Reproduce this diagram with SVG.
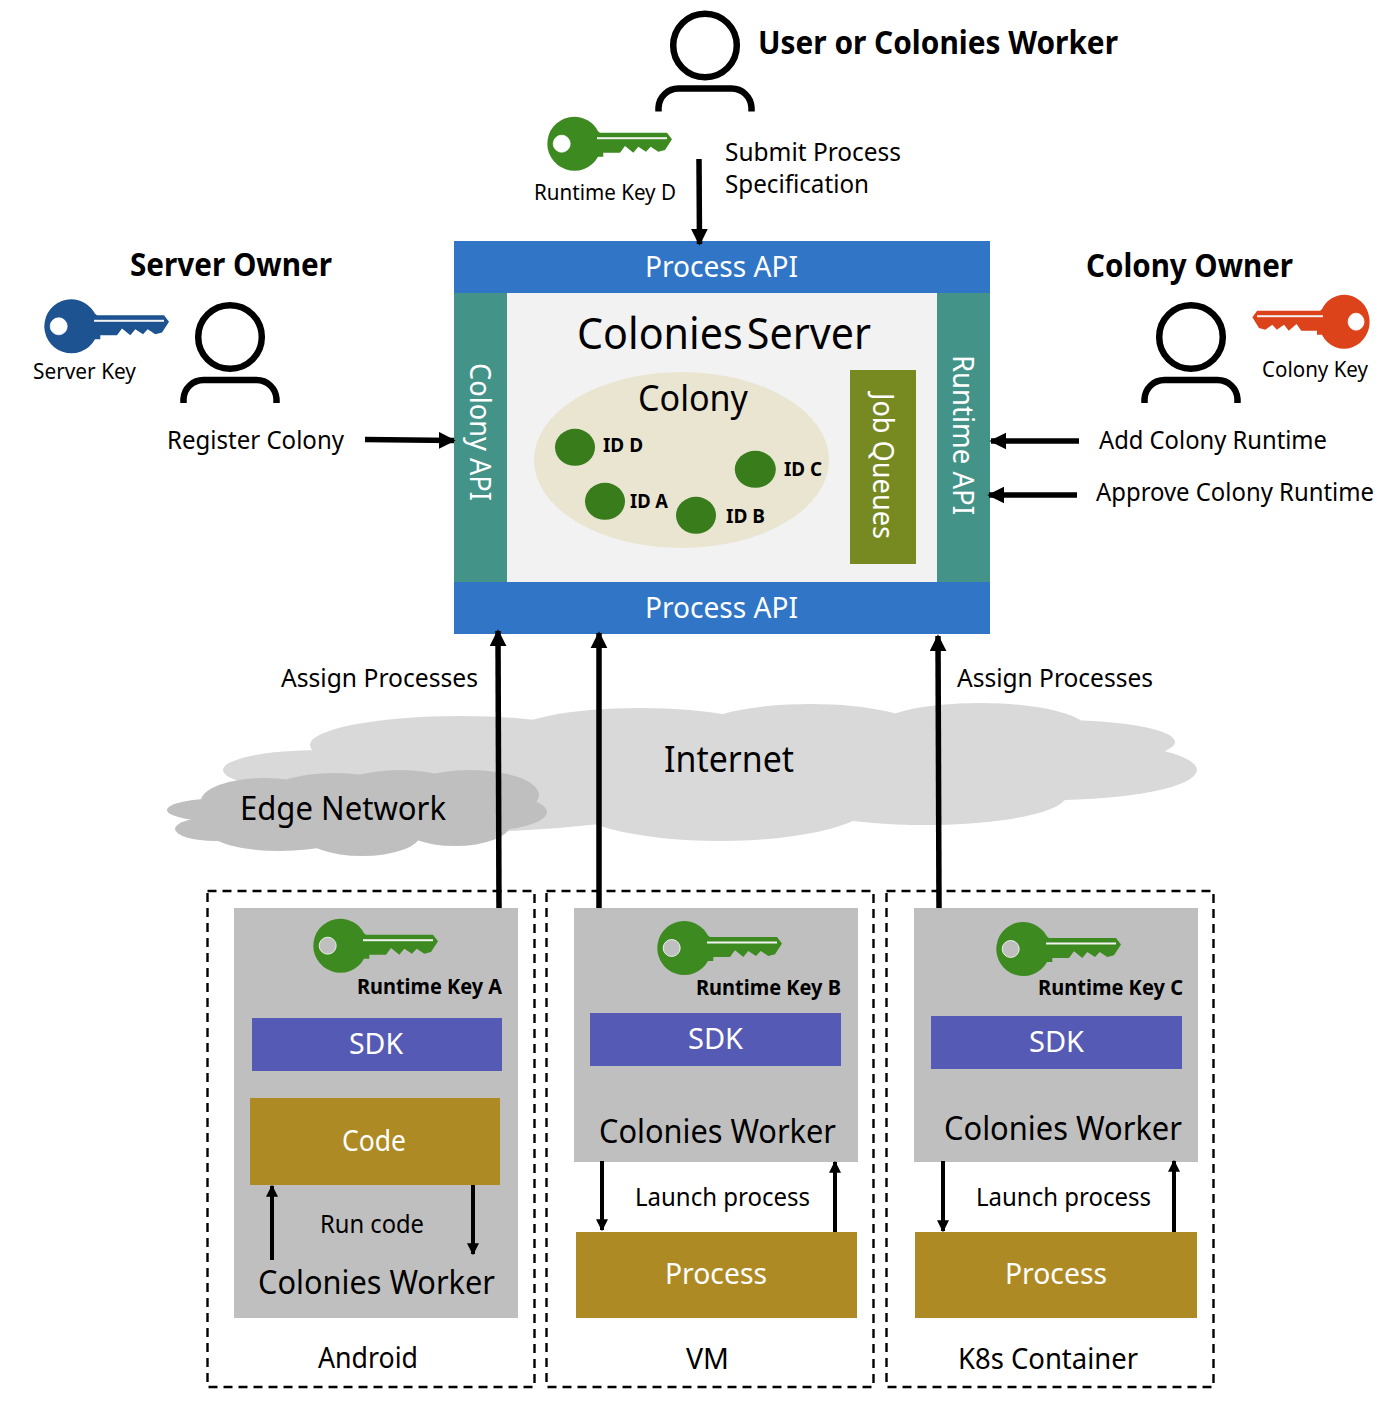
<svg xmlns="http://www.w3.org/2000/svg" width="1396" height="1418" viewBox="0 0 1396 1418">
<style>
text{font-family:"Noto Sans","Open Sans","DejaVu Sans",sans-serif;fill:#000}
.b{font-weight:700}
.w{fill:#fff}
.d{fill:none;stroke:#000;stroke-width:2.4;stroke-dasharray:9 6}
.p{fill:none;stroke:#000;stroke-width:6.5}
.a{fill:none;stroke:#000;stroke-width:5.5}
.a2{fill:none;stroke:#000;stroke-width:4}
.i{fill:#d9d9d9}
.e{fill:#bfbfbf}
.g{fill:#bfbfbf}
.o{fill:#ae8a24}
.s{fill:#555ab4}
.api{fill:#3075c6}
.t{fill:#439388}
.id{fill:#387c1c}
</style>
<defs>
<g id="key">
<path fill-rule="evenodd" d="M0-27A27 27 0 0 1 24-12.500L26-11H93L98-4.500L91 6.300L84.300 8L76.700 3L72 8L64.300 3L59.300 9L51 2.300L46 9H29.300V13H24A27 27 0 1 1 0-27ZM-12.300-8.500A8.500 8.500 0 1 0-12.300 8.500A8.500 8.500 0 1 0-12.300-8.500Z"/>
<circle cx="-12.300" cy="0" r="8.500" fill="none" stroke="#fff" stroke-width="0.800"/>
<rect x="23" y="-6.500" width="70" height="2" fill="#f2f2f2"/>
</g>
<g id="person">
<circle cx="0" cy="0" r="31.800" class="p"/>
<path class="p" d="M-46.500 66V62A20 20 0 0 1-26.500 43H26.500A20 20 0 0 1 46.500 62V66"/>
</g>
<marker id="h" viewBox="0 0 10 10" refX="9" refY="5" markerWidth="3.100" markerHeight="3.100" orient="auto"><path d="M0 0L10 5L0 10Z"/></marker>
<marker id="h2" viewBox="0 0 10 10" refX="9" refY="5" markerWidth="3" markerHeight="3" orient="auto"><path d="M0 0L10 5L0 10Z"/></marker>
</defs>

<g id="internet-cloud">
<ellipse class="i" cx="320" cy="770" rx="97" ry="20"/>
<ellipse class="i" cx="460" cy="745" rx="150" ry="29"/>
<ellipse class="i" cx="640" cy="735" rx="130" ry="27"/>
<ellipse class="i" cx="810" cy="730" rx="110" ry="26"/>
<ellipse class="i" cx="980" cy="730" rx="108" ry="27"/>
<ellipse class="i" cx="1060" cy="742" rx="115" ry="22"/>
<ellipse class="i" cx="1050" cy="770" rx="147" ry="30"/>
<ellipse class="i" cx="720" cy="800" rx="155" ry="41"/>
<ellipse class="i" cx="925" cy="795" rx="142" ry="30"/>
<path class="i" d="M440 833Q520 833 600 824V760H440Z"/>
<rect class="i" x="400" y="740" width="600" height="70"/>
<text x="664" y="772" font-size="36" textLength="130" lengthAdjust="spacingAndGlyphs">Internet</text>
</g>
<g id="edge-cloud">
<ellipse class="e" cx="265" cy="801" rx="64" ry="23"/>
<ellipse class="e" cx="335" cy="797" rx="70" ry="24"/>
<ellipse class="e" cx="400" cy="794" rx="66" ry="24"/>
<ellipse class="e" cx="470" cy="795" rx="69" ry="25"/>
<ellipse class="e" cx="480" cy="812" rx="67" ry="19"/>
<ellipse class="e" cx="225" cy="810" rx="58" ry="12"/>
<ellipse class="e" cx="215" cy="829" rx="40" ry="12"/>
<ellipse class="e" cx="280" cy="832" rx="70" ry="19"/>
<ellipse class="e" cx="362" cy="835" rx="58" ry="21"/>
<ellipse class="e" cx="455" cy="825" rx="55" ry="21"/>
<rect class="e" x="240" y="790" width="250" height="40"/>
<text x="240" y="820" font-size="33" textLength="206" lengthAdjust="spacingAndGlyphs">Edge Network</text>
</g>

<g id="server">
<rect class="api" x="454" y="241" width="536" height="52"/>
<rect class="api" x="454" y="582" width="536" height="52"/>
<rect class="t" x="454" y="293" width="53" height="289"/>
<rect class="t" x="937" y="293" width="53" height="289"/>
<rect x="507" y="293" width="430" height="289" fill="#f2f2f2"/>
<text class="w" x="645" y="277" font-size="29" textLength="153" lengthAdjust="spacingAndGlyphs">Process API</text>
<text class="w" x="645" y="618" font-size="29" textLength="153" lengthAdjust="spacingAndGlyphs">Process API</text>
<text class="w" transform="translate(470 363) rotate(90)" font-size="29" textLength="138" lengthAdjust="spacingAndGlyphs">Colony API</text>
<text class="w" transform="translate(953 355) rotate(90)" font-size="29" textLength="160" lengthAdjust="spacingAndGlyphs">Runtime API</text>
<text x="577" y="349" font-size="44" word-spacing="-7" textLength="294" lengthAdjust="spacingAndGlyphs">Colonies Server</text>
</g>
<g id="colony">
<ellipse cx="681.500" cy="460" rx="147.500" ry="88" fill="#e9e5d0"/>
<text x="638" y="411" font-size="36" textLength="110" lengthAdjust="spacingAndGlyphs">Colony</text>
<ellipse class="id" cx="575" cy="447.300" rx="20" ry="18.500"/>
<ellipse class="id" cx="755.300" cy="469.300" rx="20.500" ry="18.500"/>
<ellipse class="id" cx="605" cy="501.300" rx="20" ry="18.500"/>
<ellipse class="id" cx="696" cy="515.300" rx="20" ry="18.500"/>
<text class="b" x="603" y="452" font-size="20" textLength="40" lengthAdjust="spacingAndGlyphs">ID D</text>
<text class="b" x="784" y="476" font-size="20" textLength="38" lengthAdjust="spacingAndGlyphs">ID C</text>
<text class="b" x="630" y="508" font-size="20" textLength="38" lengthAdjust="spacingAndGlyphs">ID A</text>
<text class="b" x="726" y="523" font-size="20" textLength="39" lengthAdjust="spacingAndGlyphs">ID B</text>
</g>
<g id="job-queues">
<rect x="850" y="370" width="66" height="194" fill="#778a22"/>
<text class="w" transform="translate(873 393) rotate(90)" font-size="29" textLength="146" lengthAdjust="spacingAndGlyphs">Job Queues</text>
</g>

<g id="user">
<use href="#person" x="705" y="45.500"/>
<text class="b" x="758" y="54" font-size="32" textLength="360" lengthAdjust="spacingAndGlyphs">User or Colonies Worker</text>
<use href="#key" x="574" y="143.700" fill="#3d8b20"/>
<text x="534" y="200" font-size="21" textLength="142" lengthAdjust="spacingAndGlyphs">Runtime Key D</text>
<text x="725" y="161" font-size="25" textLength="176" lengthAdjust="spacingAndGlyphs">Submit Process</text>
<text x="725" y="193" font-size="25" textLength="144" lengthAdjust="spacingAndGlyphs">Specification</text>
</g>
<g id="server-owner">
<use href="#person" x="230" y="337"/>
<text class="b" x="130" y="276" font-size="32" textLength="202" lengthAdjust="spacingAndGlyphs">Server Owner</text>
<use href="#key" x="71" y="326.300" fill="#1d5390"/>
<text x="33" y="379" font-size="21" textLength="103" lengthAdjust="spacingAndGlyphs">Server Key</text>
<text x="167" y="449" font-size="25" textLength="177" lengthAdjust="spacingAndGlyphs">Register Colony</text>
</g>
<g id="colony-owner">
<use href="#person" x="1191" y="337"/>
<text class="b" x="1086" y="277" font-size="32" textLength="207" lengthAdjust="spacingAndGlyphs">Colony Owner</text>
<use href="#key" transform="translate(1344.500 321.700) scale(-.94 1)" fill="#dd431b"/>
<text x="1262" y="377" font-size="21" textLength="106" lengthAdjust="spacingAndGlyphs">Colony Key</text>
<text x="1099" y="449" font-size="25" textLength="228" lengthAdjust="spacingAndGlyphs">Add Colony Runtime</text>
<text x="1096" y="501" font-size="25" textLength="278" lengthAdjust="spacingAndGlyphs">Approve Colony Runtime</text>
</g>

<g id="android">
<rect class="d" x="207.500" y="891" width="327" height="496"/>
<rect class="g" x="234" y="908" width="284" height="410"/>
<use href="#key" x="340" y="945.700" fill="#3d8b20"/>
<text class="b" x="357" y="994" font-size="21" textLength="145" lengthAdjust="spacingAndGlyphs">Runtime Key A</text>
<rect class="s" x="252" y="1018" width="250" height="53"/>
<text class="w" x="349" y="1054" font-size="29" textLength="54" lengthAdjust="spacingAndGlyphs">SDK</text>
<rect class="o" x="250" y="1098" width="250" height="87"/>
<text class="w" x="342" y="1151" font-size="29" textLength="64" lengthAdjust="spacingAndGlyphs">Code</text>
<text x="320" y="1233" font-size="25" textLength="104" lengthAdjust="spacingAndGlyphs">Run code</text>
<text x="258" y="1294" font-size="33" textLength="237" lengthAdjust="spacingAndGlyphs">Colonies Worker</text>
<text x="318" y="1368" font-size="29" textLength="100" lengthAdjust="spacingAndGlyphs">Android</text>
</g>
<g id="vm">
<rect class="d" x="546.500" y="891" width="327" height="496"/>
<rect class="g" x="574" y="908" width="284" height="254"/>
<use href="#key" x="684" y="948" fill="#3d8b20"/>
<text class="b" x="696" y="995" font-size="21" textLength="145" lengthAdjust="spacingAndGlyphs">Runtime Key B</text>
<rect class="s" x="590" y="1013" width="251" height="53"/>
<text class="w" x="688" y="1049" font-size="29" textLength="55" lengthAdjust="spacingAndGlyphs">SDK</text>
<text x="599" y="1143" font-size="33" textLength="237" lengthAdjust="spacingAndGlyphs">Colonies Worker</text>
<text x="635" y="1206" font-size="25" textLength="175" lengthAdjust="spacingAndGlyphs">Launch process</text>
<rect class="o" x="576" y="1232" width="281" height="86"/>
<text class="w" x="665" y="1284" font-size="29" textLength="102" lengthAdjust="spacingAndGlyphs">Process</text>
<text x="686" y="1369" font-size="29" textLength="43" lengthAdjust="spacingAndGlyphs">VM</text>
</g>
<g id="k8s">
<rect class="d" x="886.500" y="891" width="327" height="496"/>
<rect class="g" x="914" y="908" width="284" height="254"/>
<use href="#key" x="1023" y="949" fill="#3d8b20"/>
<text class="b" x="1038" y="995" font-size="21" textLength="145" lengthAdjust="spacingAndGlyphs">Runtime Key C</text>
<rect class="s" x="931" y="1016" width="251" height="53"/>
<text class="w" x="1029" y="1052" font-size="29" textLength="55" lengthAdjust="spacingAndGlyphs">SDK</text>
<text x="944" y="1140" font-size="33" textLength="238" lengthAdjust="spacingAndGlyphs">Colonies Worker</text>
<text x="976" y="1206" font-size="25" textLength="175" lengthAdjust="spacingAndGlyphs">Launch process</text>
<rect class="o" x="915" y="1232" width="282" height="86"/>
<text class="w" x="1005" y="1284" font-size="29" textLength="102" lengthAdjust="spacingAndGlyphs">Process</text>
<text x="958" y="1369" font-size="29" textLength="180" lengthAdjust="spacingAndGlyphs">K8s Container</text>
</g>

<g id="connectors">
<path class="a" marker-end="url(#h)" d="M699 159L699.500 244"/>
<path class="a" marker-end="url(#h)" d="M365 439.500L454 440.500"/>
<path class="a" marker-end="url(#h)" d="M1079 441H991"/>
<path class="a" marker-end="url(#h)" d="M1077 495H989"/>
<path class="a" marker-end="url(#h)" d="M499 908L498 631"/>
<path class="a" marker-end="url(#h)" d="M599 908V633"/>
<path class="a" marker-end="url(#h)" d="M939 908L938 636"/>
<path class="a2" marker-end="url(#h2)" d="M272 1260V1186"/>
<path class="a2" marker-end="url(#h2)" d="M473 1185V1254"/>
<path class="a2" marker-end="url(#h2)" d="M602 1161V1230"/>
<path class="a2" marker-end="url(#h2)" d="M835 1232V1162"/>
<path class="a2" marker-end="url(#h2)" d="M943 1161V1231"/>
<path class="a2" marker-end="url(#h2)" d="M1174 1232V1161"/>
</g>
<text x="281" y="687" font-size="25" textLength="197" lengthAdjust="spacingAndGlyphs">Assign Processes</text>
<text x="957" y="687" font-size="25" textLength="196" lengthAdjust="spacingAndGlyphs">Assign Processes</text>
</svg>
